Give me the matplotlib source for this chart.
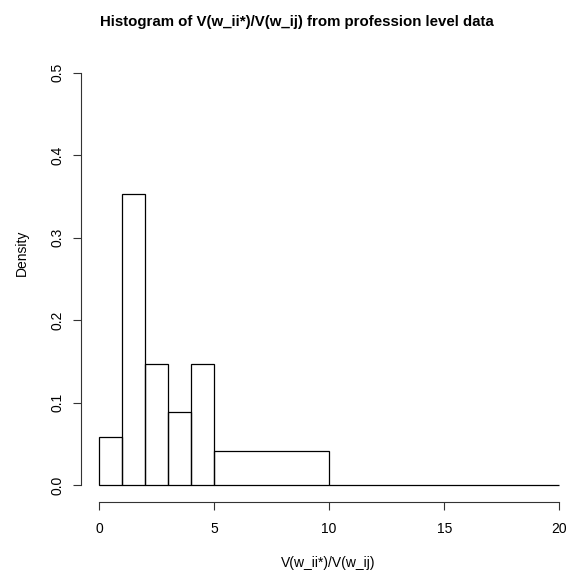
import numpy as np
import matplotlib
matplotlib.use("Agg")
import matplotlib.pyplot as plt

plt.rcParams['font.family'] = ['Liberation Sans', 'DejaVu Sans']

# Bin edges and counts of the ratio V(w_ii*)/V(w_ij)
bin_edges = [0, 1, 2, 3, 4, 5, 10, 20]
bin_counts = [2, 12, 5, 3, 5, 7, 0]
x_ticks = [0, 5, 10, 15, 20]
y_ticks = [0.0, 0.1, 0.2, 0.3, 0.4, 0.5]

edges = np.array(bin_edges, dtype=float)
counts = np.array(bin_counts, dtype=float)
widths = np.diff(edges)
density = counts / (counts.sum() * widths)

W, H = 570, 577
fig = plt.figure(figsize=(W / 100, H / 100), dpi=100)

left, right, top, bottom = 80.5, 577.7, 56.2, 501.8
ax = fig.add_axes([left / W, 1 - bottom / H, (right - left) / W, (bottom - top) / H])

ax.bar(edges[:-1], density, width=widths, align='edge', fill=False,
       edgecolor='black', linewidth=0.9)

ax.set_xlim(-0.8, 20.8)
ax.set_ylim(-0.02, 0.52)

for s in ['top', 'right']:
    ax.spines[s].set_visible(False)
ax.spines['bottom'].set_bounds(x_ticks[0], x_ticks[-1])
ax.spines['left'].set_bounds(y_ticks[0], y_ticks[-1])
for s in ['bottom', 'left']:
    ax.spines[s].set_linewidth(0.8)
    ax.spines[s].set_color('#333333')

ax.set_xticks(x_ticks)
ax.set_xticklabels([str(v) for v in x_ticks])
ax.set_yticks(y_ticks)
ax.set_yticklabels([f"{v:.1f}" for v in y_ticks], rotation=90, va='center')
ax.tick_params(direction='out', length=5.5, width=0.8, color='#333333',
               labelsize=10)
ax.tick_params(axis='x', pad=9)
ax.tick_params(axis='y', pad=6)

fig.text(297 / W, 1 - 22 / H, "Histogram of V(w_ii*)/V(w_ij) from profession level data",
         ha='center', va='center', fontsize=10.8, fontweight='bold')
fig.text(328.5 / W, 1 - 563 / H, "V(w_ii*)/V(w_ij)", ha='center', va='center', fontsize=10)
fig.text(22 / W, 1 - 253 / H, "Density", ha='center', va='center', rotation=90, fontsize=10)

fig.savefig("out.png", dpi=100)
